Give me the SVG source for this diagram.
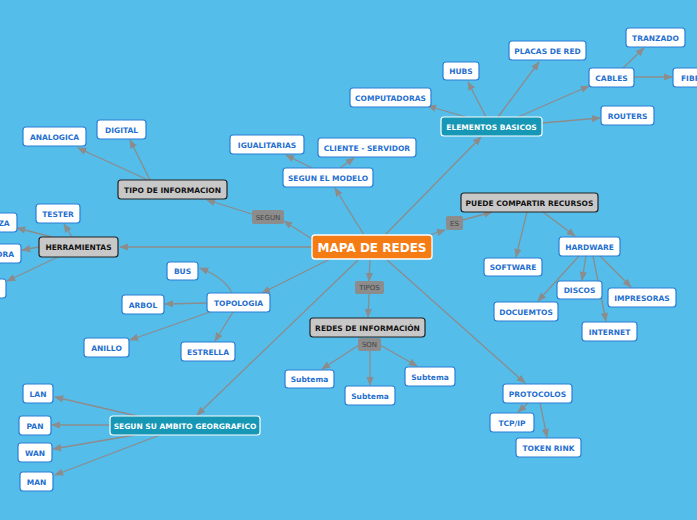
<svg xmlns="http://www.w3.org/2000/svg" width="697" height="520" viewBox="0 0 697 520">
<style>
.n rect{fill:#fff;stroke:#2a7fd6;stroke-width:1.2}
.n text{fill:#1f6fd0}
.g rect{fill:#c8c8c8;stroke:#222;stroke-width:1.2}
.g text{fill:#111}
.t rect{fill:#1597b5;stroke:#fff;stroke-width:1.2}
.t text{fill:#fff}
.l rect{fill:#8c8c8c;stroke:none}
.l text{fill:#444;font-weight:normal;font-size:7px}
text{font-family:"DejaVu Sans",sans-serif;font-size:7.5px;font-weight:bold;text-anchor:middle;dominant-baseline:central}
#c line,#c path{stroke:#8c8c8c;stroke-width:1.3;fill:none}
</style>
<defs><marker id="a" viewBox="0 0 10 10" refX="9" refY="5" markerWidth="7" markerHeight="7" orient="auto"><path d="M0,1L10,5L0,9z" fill="#8c8c8c"/></marker></defs>
<rect width="697" height="520" fill="#55bdea"/>
<g id="c" marker-end="url(#a)">
<line x1="385" y1="235" x2="481" y2="137"/>
<line x1="466" y1="117" x2="428" y2="106"/>
<line x1="486" y1="117" x2="468" y2="82"/>
<line x1="498" y1="117" x2="539" y2="62"/>
<line x1="518" y1="117" x2="589" y2="86"/>
<line x1="542" y1="123" x2="600" y2="118"/>
<line x1="623" y1="68" x2="644" y2="48"/>
<line x1="634" y1="77" x2="672" y2="77"/>
<line x1="420" y1="238" x2="445" y2="230"/>
<line x1="463" y1="220" x2="492" y2="212"/>
<line x1="527" y1="212" x2="516" y2="257"/>
<line x1="543" y1="212" x2="575" y2="236"/>
<line x1="579" y1="256" x2="538" y2="301"/>
<line x1="586" y1="256" x2="582" y2="280"/>
<line x1="593" y1="256" x2="606" y2="321"/>
<line x1="600" y1="256" x2="631" y2="287"/>
<line x1="387" y1="260" x2="525" y2="383"/>
<line x1="528" y1="403" x2="518" y2="412"/>
<line x1="540" y1="403" x2="547" y2="437"/>
<line x1="370" y1="260" x2="369" y2="281"/>
<line x1="369" y1="294" x2="368" y2="317"/>
<line x1="359" y1="345" x2="322" y2="369"/>
<line x1="370" y1="351" x2="370" y2="385"/>
<line x1="380" y1="345" x2="417" y2="366"/>
<line x1="364" y1="235" x2="335" y2="188"/>
<line x1="340" y1="168" x2="354" y2="158"/>
<line x1="312" y1="168" x2="286" y2="155"/>
<line x1="315" y1="241" x2="284" y2="221"/>
<line x1="252" y1="214" x2="207" y2="200"/>
<line x1="150" y1="180" x2="130" y2="140"/>
<line x1="148" y1="180" x2="78" y2="148"/>
<line x1="312" y1="247" x2="120" y2="247"/>
<line x1="72" y1="237" x2="64" y2="224"/>
<line x1="52" y1="237" x2="17" y2="228"/>
<line x1="39" y1="247" x2="22" y2="250"/>
<line x1="58" y1="257" x2="7" y2="281"/>
<line x1="330" y1="259" x2="262" y2="293"/>
<path d="M232,293 Q225,278 200,268"/>
<line x1="207" y1="303" x2="165" y2="304"/>
<line x1="210" y1="312" x2="130" y2="340"/>
<line x1="233" y1="312" x2="215" y2="341"/>
<line x1="358" y1="260" x2="197" y2="415"/>
<line x1="137" y1="416" x2="55" y2="397"/>
<line x1="110" y1="425" x2="52" y2="425"/>
<line x1="135" y1="435" x2="53" y2="449"/>
<line x1="160" y1="435" x2="55" y2="475"/>
</g>
<g id="mapa"><rect x="312" y="235" width="120" height="24" rx="3" fill="#f57c14" stroke="#fff" stroke-width="1.3"/><text x="372" y="247.5" fill="#fff" style="font-size:12px">MAPA DE REDES</text></g>
<g id="eb" class="t"><rect x="441" y="117" width="101" height="19" rx="3"/><text x="491.5" y="127">ELEMENTOS BASICOS</text></g>
<g id="hubs" class="n"><rect x="443" y="62" width="36" height="18" rx="3"/><text x="461" y="71.5">HUBS</text></g>
<g id="placas" class="n"><rect x="509" y="41" width="77" height="19" rx="3"/><text x="547.5" y="51">PLACAS DE RED</text></g>
<g id="comp" class="n"><rect x="350" y="88" width="81" height="19" rx="3"/><text x="390.5" y="98">COMPUTADORAS</text></g>
<g id="cables" class="n"><rect x="589" y="68" width="45" height="19" rx="3"/><text x="611.5" y="78">CABLES</text></g>
<g id="tranz" class="n"><rect x="626" y="28" width="59" height="19" rx="3"/><text x="655.5" y="38">TRANZADO</text></g>
<g id="fibra" class="n"><rect x="673" y="68" width="40" height="19" rx="3"/><text x="681" y="78" style="text-anchor:start">FIBRA</text></g>
<g id="routers" class="n"><rect x="601" y="106" width="53" height="19" rx="3"/><text x="627.5" y="116">ROUTERS</text></g>
<g id="pcr" class="g"><rect x="461" y="193" width="137" height="19" rx="3"/><text x="529.5" y="203">PUEDE COMPARTIR RECURSOS</text></g>
<g id="es" class="l"><rect x="446" y="216" width="17" height="14" rx="2"/><text x="454.5" y="223.5">ES</text></g>
<g id="soft" class="n"><rect x="484" y="258" width="58" height="18" rx="3"/><text x="513" y="267.5">SOFTWARE</text></g>
<g id="hard" class="n"><rect x="559" y="237" width="61" height="19" rx="3"/><text x="589.5" y="247">HARDWARE</text></g>
<g id="discos" class="n"><rect x="557" y="281" width="45" height="18" rx="3"/><text x="579.5" y="290.5">DISCOS</text></g>
<g id="impr" class="n"><rect x="608" y="288" width="68" height="19" rx="3"/><text x="642" y="298">IMPRESORAS</text></g>
<g id="docu" class="n"><rect x="494" y="302" width="64" height="19" rx="3"/><text x="526" y="312">DOCUEMTOS</text></g>
<g id="inet" class="n"><rect x="582" y="322" width="55" height="19" rx="3"/><text x="609.5" y="332">INTERNET</text></g>
<g id="proto" class="n"><rect x="503" y="384" width="69" height="19" rx="3"/><text x="537.5" y="394">PROTOCOLOS</text></g>
<g id="tcp" class="n"><rect x="490" y="413" width="44" height="19" rx="3"/><text x="512" y="423">TCP/IP</text></g>
<g id="token" class="n"><rect x="516" y="438" width="65" height="19" rx="3"/><text x="548.5" y="448">TOKEN RINK</text></g>
<g id="redes" class="g"><rect x="310" y="318" width="115" height="19" rx="3"/><text x="367.5" y="328">REDES DE INFORMACIÓN</text></g>
<g id="tipos" class="l"><rect x="355" y="281" width="29" height="13" rx="2"/><text x="369.5" y="288">TIPOS</text></g>
<g id="son" class="l"><rect x="358" y="338" width="23" height="13" rx="2"/><text x="369.5" y="345">SON</text></g>
<g id="s1" class="n"><rect x="285" y="370" width="49" height="18" rx="3"/><text x="309.5" y="379.5">Subtema</text></g>
<g id="s2" class="n"><rect x="345" y="386" width="50" height="19" rx="3"/><text x="370" y="396">Subtema</text></g>
<g id="s3" class="n"><rect x="405" y="367" width="50" height="19" rx="3"/><text x="430" y="377">Subtema</text></g>
<g id="sem" class="n"><rect x="283" y="168" width="90" height="19" rx="3"/><text x="328" y="178">SEGUN EL MODELO</text></g>
<g id="cs" class="n"><rect x="318" y="138" width="98" height="19" rx="3"/><text x="367" y="148">CLIENTE - SERVIDOR</text></g>
<g id="igu" class="n"><rect x="230" y="135" width="74" height="19" rx="3"/><text x="267" y="145">IGUALITARIAS</text></g>
<g id="segun" class="l"><rect x="252" y="210" width="32" height="14" rx="2"/><text x="268" y="217.5">SEGUN</text></g>
<g id="tinf" class="g"><rect x="118" y="180" width="109" height="19" rx="3"/><text x="172.5" y="190">TIPO DE INFORMACION</text></g>
<g id="dig" class="n"><rect x="97" y="120" width="49" height="19" rx="3"/><text x="121.5" y="130">DIGITAL</text></g>
<g id="ana" class="n"><rect x="23" y="127" width="63" height="19" rx="3"/><text x="54.5" y="137">ANALOGICA</text></g>
<g id="herr" class="g"><rect x="39" y="237" width="79" height="20" rx="3"/><text x="78.5" y="247.5">HERRAMIENTAS</text></g>
<g id="tester" class="n"><rect x="36" y="204" width="44" height="19" rx="3"/><text x="58" y="214">TESTER</text></g>
<g id="za" class="n"><rect x="-20" y="213" width="37" height="19" rx="3"/><text x="4" y="223">ZA</text></g>
<g id="ora" class="n"><rect x="-20" y="244" width="41" height="19" rx="3"/><text x="5" y="254">ORA</text></g>
<g id="x3" class="n"><rect x="-20" y="279" width="26" height="19" rx="3"/></g>
<g id="topo" class="n"><rect x="207" y="293" width="63" height="19" rx="3"/><text x="238.5" y="303">TOPOLOGIA</text></g>
<g id="bus" class="n"><rect x="167" y="262" width="31" height="18" rx="3"/><text x="182.5" y="271.5">BUS</text></g>
<g id="arbol" class="n"><rect x="122" y="295" width="42" height="19" rx="3"/><text x="143" y="305">ARBOL</text></g>
<g id="anillo" class="n"><rect x="84" y="338" width="45" height="19" rx="3"/><text x="106.5" y="348">ANILLO</text></g>
<g id="estr" class="n"><rect x="181" y="342" width="54" height="19" rx="3"/><text x="208" y="352">ESTRELLA</text></g>
<g id="amb" class="t"><rect x="110" y="416" width="150" height="19" rx="3"/><text x="185" y="426">SEGUN SU AMBITO GEORGRAFICO</text></g>
<g id="lan" class="n"><rect x="23" y="384" width="30" height="19" rx="3"/><text x="38" y="394">LAN</text></g>
<g id="pan" class="n"><rect x="19" y="416" width="32" height="19" rx="3"/><text x="35" y="426">PAN</text></g>
<g id="wan" class="n"><rect x="18" y="443" width="34" height="19" rx="3"/><text x="35" y="453">WAN</text></g>
<g id="man" class="n"><rect x="20" y="472" width="33" height="19" rx="3"/><text x="36.5" y="482">MAN</text></g>
</svg>
